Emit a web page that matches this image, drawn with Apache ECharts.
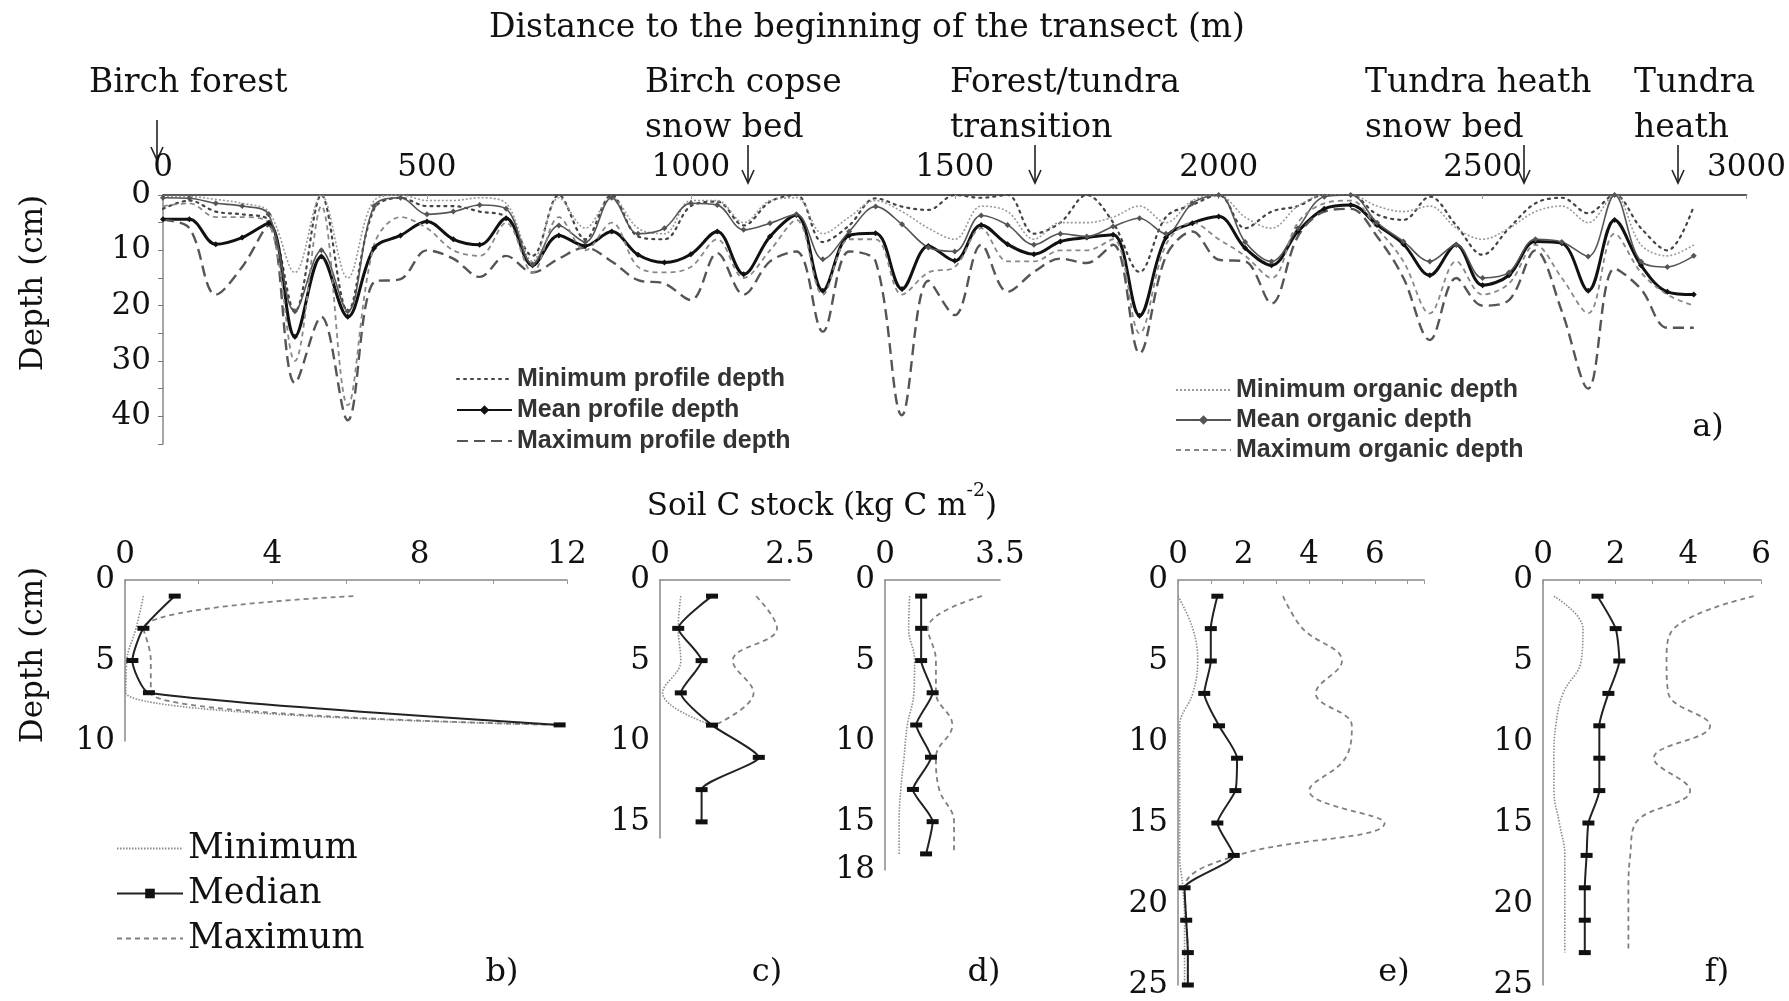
<!DOCTYPE html>
<html><head><meta charset="utf-8">
<script src="https://cdn.jsdelivr.net/npm/echarts@6/dist/echarts.min.js"></script>
<style>html,body{margin:0;padding:0;background:#fff}#c{width:1789px;height:1001px}</style>
</head><body><div id="c"></div>
<script>
// ---------- Panel a) : transect ----------
const distance = [0,50,100,150,200,250,300,350,400,450,500,550,600,650,700,750,800,850,900,950,1000,1050,1100,1150,1200,1250,1300,1350,1400,1450,1500,1550,1600,1650,1700,1750,1800,1850,1900,1950,2000,2050,2100,2150,2200,2250,2300,2350,2400,2450,2500,2550,2600,2650,2700,2750,2800,2850,2900];
const minProfile = [2.5,1,3,3.5,4.5,21,0,21,2.5,0.5,2, 2,3,4,11,0,8,0,7.5,8,2, 1.2,5.5,1.2,0,8.5,5.5,0.6,2.1,2.7,0, 0.5,0,7,5,0,5,13.9,4,1.8,0, 6,3,2,0,0,3.5,4.5,0.3,5.5,10.8, 6,1.5,0.5,3.3,0,6,10,2];
const meanProfile = [4.4,4.4,8.9,7.7,5.1,25.6,11.1,22.0,9.6,7.3,4.8, 8.0,9.0,4.2,12.7,7.3,9.2,6.6,10.8,12.2,10.7, 6.6,14.3,7.5,3.6,17.3,7.3,6.9,17.0,9.2,11.9, 5.4,8.9,10.7,8.4,7.7,7.2,21.8,7.7,5.1,3.9, 9.6,12.7,6.6,2.5,1.8,5.4,8.9,14.5,9.0,16.3, 14.5,8.4,8.7,17.3,4.5,12.7,17.5,18.0];
const maxProfile = [4.5,6,18,13,5.5,34,22,40.7,15.7,15.2,10, 11.5,14.8,11,14,11.5,9.5,12,15.4,16,19, 10.5,18,12,10.2,24.7,10.2,12,39.8,15.5,21.7, 9,17.5,13.9,11.5,12.3,9,28.6,11.1,6.6,11.7, 12,19.6,7.5,3,2.5,7.5,15,26.2,15,20, 19,10,21,35,13.3,17,24,24];
const minOrganic = [0.3,0.3,0.8,1.5,3,14,0,15,1,0,1, 1,0.5,1.5,12,0.5,6,0.5,6,7,1, 1,5,1,0.5,7,4,1,3,6,8, 2,3,8,5,5,4,2,5,1,0, 4,6,2,0,0,2,3,2,6,8, 6,3,2,5,0,9,11,9];
const meanOrganic = [0.5,0.6,1.5,2.0,3.5,21,10,21,2,0.5,3.5, 3.0,1.8,2.5,12.5,5.5,8.5,0.5,7,6,1.5, 1.8,6.3,5.1,3.5,11.6,6.6,2.1,5.3,9.5,10.2, 3.7,5.4,9.0,7.0,7.5,5.7,4.2,7.0,1.5,0, 8.5,12,6,0.3,0,5,8.4,12,9,15, 14,8,8.5,11.1,0,12,13,11];
const maxOrganic = [2,1.5,4,4,5,30,2,38,9,4,6, 10,11,5,14,4,10,5,13,14,13, 8,15,10,4.5,18,8,8,18,14,13, 6,12,12,10,10,8,25,9,5,8, 11,15,5,1.5,1,6,12,21.4,12,18, 16,9,15,21.4,7,14,18,20];
const distanceTicks = [0,500,1000,1500,2000,2500,3000];
const depthTicksA = [0,10,20,30,40];

// ---------- Panels b) - f) : soil C stock profiles ----------
const depthB = [1,3,5,7,9];
const minB = [0.5,0.3,0.05,0.02,11.8];
const medB = [1.35,0.5,0.2,0.65,11.8];
const maxB = [6.2,0.5,0.7,0.7,11.8];

const depthC = [1,3,5,7,9,11,13,15];
const minC = [0.4,0.35,0.4,0.05,1.0];
const medC = [1.0,0.35,0.8,0.4,1.0,1.9,0.8,0.8];
const maxC = [1.85,2.25,1.4,1.8,1.05];

const depthD = [1,3,5,7,9,11,13,15,17];
const minD = [0.75,0.72,0.9,0.88,0.68,0.58,0.48,0.43,0.43];
const medD = [1.1,1.1,1.1,1.45,0.95,1.4,0.85,1.45,1.25];
const maxD = [2.95,1.3,1.55,1.55,2.05,1.55,1.65,2.1,2.1];

const depthE = [1,3,5,7,9,11,13,15,17,19,21,23,25];
const minE = [0,0.45,0.6,0.45,0.05,0.05,0.05,0.05,0.05,0.15,0.2,0.2,0.2];
const medE = [1.2,1.0,1.0,0.8,1.25,1.8,1.75,1.2,1.7,0.2,0.25,0.3,0.3];
const maxE = [3.2,3.8,5.0,4.2,5.3,5.1,4.0,6.3,1.8,0.2,0.25,0.3,0.3];

const depthF = [1,3,5,7,9,11,13,15,17,19,21,23];
const minF = [0.3,1.1,1.05,0.55,0.35,0.3,0.3,0.45,0.6,0.6,0.6,0.6];
const medF = [1.5,2.0,2.1,1.8,1.55,1.55,1.55,1.25,1.2,1.15,1.15,1.15];
const maxF = [5.8,3.6,3.4,3.45,4.6,3.05,4.05,2.55,2.4,2.35,2.35,2.35];

// ---------- build ----------
const SERIF = '"DejaVu Serif", "Liberation Serif", serif';
const chart = echarts.init(document.getElementById('c'), null, {renderer: 'canvas'});

const topPairs = ys => distance.map((d, i) => [d, ys[i]]);
const profPairs = (xs, depths) => xs.map((v, i) => [v, depths[i]]);

const series = [];
function topLine(name, ys, style, sym) {
  series.push({
    name, type: 'line', xAxisIndex: 0, yAxisIndex: 0, data: topPairs(ys),
    smooth: 0.35, clip: true, z: 3,
    symbol: sym ? 'diamond' : 'none', symbolSize: sym ? sym : 0,
    itemStyle: {color: style.color}, lineStyle: style
  });
}
topLine('Minimum profile depth', minProfile, {color: '#444', width: 2.2, type: [2, 5], cap: 'round'});
topLine('Mean profile depth', meanProfile, {color: '#111', width: 3}, 6);
topLine('Maximum profile depth', maxProfile, {color: '#555', width: 2.4, type: [11, 6]});
topLine('Minimum organic depth', minOrganic, {color: '#999', width: 1.6, type: [2, 2]});
topLine('Mean organic depth', meanOrganic, {color: '#555', width: 1.6}, 6);
topLine('Maximum organic depth', maxOrganic, {color: '#888', width: 1.8, type: [5, 4]});

const panels = [
  {depth: depthB, min: minB, med: medB, max: maxB},
  {depth: depthC, min: minC, med: medC, max: maxC},
  {depth: depthD, min: minD, med: medD, max: maxD},
  {depth: depthE, min: minE, med: medE, max: maxE},
  {depth: depthF, min: minF, med: medF, max: maxF}
];
panels.forEach((p, k) => {
  const idx = k + 1;
  series.push({name: 'Minimum', type: 'line', xAxisIndex: idx, yAxisIndex: idx,
    data: profPairs(p.min, p.depth), smooth: 0.4, symbol: 'none',
    itemStyle: {color: '#8a8a8a'}, lineStyle: {color: '#8a8a8a', width: 1.6, type: [1.5, 1.5]}});
  series.push({name: 'Maximum', type: 'line', xAxisIndex: idx, yAxisIndex: idx,
    data: profPairs(p.max, p.depth), smooth: 0.4, symbol: 'none',
    itemStyle: {color: '#808080'}, lineStyle: {color: '#808080', width: 1.8, type: [5, 4]}});
  series.push({name: 'Median', type: 'line', xAxisIndex: idx, yAxisIndex: idx,
    data: profPairs(p.med, p.depth), smooth: 0.2, symbol: 'rect', symbolSize: [12, 5], z: 4,
    itemStyle: {color: '#111'}, lineStyle: {color: '#222', width: 2}});
});

const grids = [
  {left: 163, top: 195, width: 1587, height: 249},
  {left: 125, top: 580, width: 442, height: 161},
  {left: 660, top: 580, width: 130, height: 258},
  {left: 885, top: 580, width: 115, height: 290},
  {left: 1178, top: 580, width: 246, height: 405},
  {left: 1543, top: 580, width: 218, height: 405}
];

const labelFont = {fontFamily: SERIF, fontSize: 31, color: '#111'};
function xAx(gi, min, max, interval, show, tickShow) {
  return {type: 'value', gridIndex: gi, position: 'top', min, max, interval,
    axisLine: {show: true, lineStyle: {color: '#888', width: 1.5}},
    axisTick: {show: !!tickShow, inside: true, length: 4, lineStyle: {color: '#999'}},
    splitLine: {show: false},
    axisLabel: Object.assign({margin: 10, formatter: v => show(v) ? String(v) : ''}, labelFont)};
}
function yAx(gi, min, max, interval, show, tickShow) {
  return {type: 'value', gridIndex: gi, inverse: true, min, max, interval,
    axisLine: {show: true, lineStyle: {color: '#888', width: 1.5}},
    axisTick: {show: !!tickShow, length: 5, lineStyle: {color: '#777'}},
    splitLine: {show: false},
    axisLabel: Object.assign({margin: 10, formatter: v => show(v) ? String(v) : ''}, labelFont)};
}

const xAxes = [
  Object.assign(xAx(0, 0, 3000, 500, v => distanceTicks.includes(v), true),
    {axisLine: {show: true, lineStyle: {color: '#222', width: 1.5}}}),
  xAx(1, 0, 12, 2, v => v % 4 === 0, true),
  xAx(2, 0, 2.5, 2.5, v => true),
  xAx(3, 0, 3.5, 3.5, v => true),
  xAx(4, 0, 7.5, 1, v => v % 2 === 0 && v <= 6, true),
  xAx(5, 0, 6, 1, v => v % 2 === 0, true)
];
xAxes[0].axisLabel.margin = 12;
const yAxes = [
  yAx(0, 0, 45, 5, v => depthTicksA.includes(v), true),
  yAx(1, 0, 10, 5, v => true),
  yAx(2, 0, 16, 5, v => v % 5 === 0),
  yAx(3, 0, 18, 5, v => true),
  yAx(4, 0, 25, 5, v => true),
  yAx(5, 0, 25, 5, v => true)
];
yAxes[0].axisLabel.margin = 12;

function txt(text, x, y, size, align, extra) {
  return Object.assign({type: 'text', x, y, silent: true,
    style: {text, fontFamily: SERIF, fontSize: size, fill: '#111', align: align || 'left', verticalAlign: 'middle'}}, extra || {});
}
function arrow(x, y1, y2) {
  return {type: 'group', silent: true, children: [
    {type: 'line', shape: {x1: x, y1: y1, x2: x, y2: y2}, style: {stroke: '#222', lineWidth: 1.6}},
    {type: 'polyline', shape: {points: [[x - 6, y2 - 13], [x, y2], [x + 6, y2 - 13]]}, style: {stroke: '#222', lineWidth: 1.6, fill: null}}
  ]};
}

const graphic = [
  txt('Distance to the beginning of the transect (m)', 867, 28, 33, 'center'),
  txt('Birch forest', 89, 83, 33),
  txt('Birch copse', 645, 83, 33), txt('snow bed', 645, 128, 33),
  txt('Forest/tundra', 950, 83, 33), txt('transition', 950, 128, 33),
  txt('Tundra heath', 1365, 83, 33), txt('snow bed', 1365, 128, 33),
  txt('Tundra', 1634, 83, 33), txt('heath', 1634, 128, 33),
  arrow(157, 120, 160), arrow(748, 145, 183), arrow(1035, 145, 183), arrow(1524, 145, 183), arrow(1678, 145, 183),
  txt('Depth (cm)', 34, 283, 31, 'center', {rotation: Math.PI / 2}),
  txt('Depth (cm)', 34, 655, 31, 'center', {rotation: Math.PI / 2}),
  {type: 'text', x: 822, y: 502, silent: true, style: {
    text: '{a|Soil C stock (kg C m}{s|-2}{a|)}', align: 'center', verticalAlign: 'middle',
    rich: {a: {fontFamily: SERIF, fontSize: 31, fill: '#111', lineHeight: 40, verticalAlign: 'bottom'},
           s: {fontFamily: SERIF, fontSize: 19, fill: '#111', lineHeight: 40, verticalAlign: 'top'}}}},
  txt('a)', 1708, 428, 32, 'center'),
  txt('b)', 502, 973, 32, 'center'),
  txt('c)', 767, 973, 32, 'center'),
  txt('d)', 984, 973, 32, 'center'),
  txt('e)', 1394, 973, 32, 'center'),
  txt('f)', 1717, 973, 32, 'center')
];

const noSym = {opacity: 0};
const sansLegend = {fontFamily: '"Liberation Sans", Arial, sans-serif', fontWeight: 'bold', fontSize: 25, color: '#333', lineHeight: 30};
const option = {
  animation: false,
  backgroundColor: '#fff',
  grid: grids,
  xAxis: xAxes,
  yAxis: yAxes,
  legend: [
    {data: [{name: 'Minimum profile depth', itemStyle: noSym}, 'Mean profile depth', {name: 'Maximum profile depth', itemStyle: noSym}],
     orient: 'vertical', left: 451, top: 359, itemWidth: 55, itemHeight: 12, itemGap: 1, selectedMode: false, textStyle: sansLegend},
    {data: [{name: 'Minimum organic depth', itemStyle: noSym}, 'Mean organic depth', {name: 'Maximum organic depth', itemStyle: noSym}],
     orient: 'vertical', left: 1170, top: 370, itemWidth: 55, itemHeight: 12, itemGap: 0, selectedMode: false, textStyle: sansLegend},
    {data: [{name: 'Minimum', itemStyle: noSym}, 'Median', {name: 'Maximum', itemStyle: noSym}], orient: 'vertical', left: 111, top: 822,
     itemWidth: 66, itemHeight: 12, itemGap: 2, selectedMode: false,
     textStyle: {fontFamily: SERIF, fontSize: 35, color: '#111', lineHeight: 43}}
  ],
  series,
  graphic
};
chart.setOption(option);
</script></body></html>
